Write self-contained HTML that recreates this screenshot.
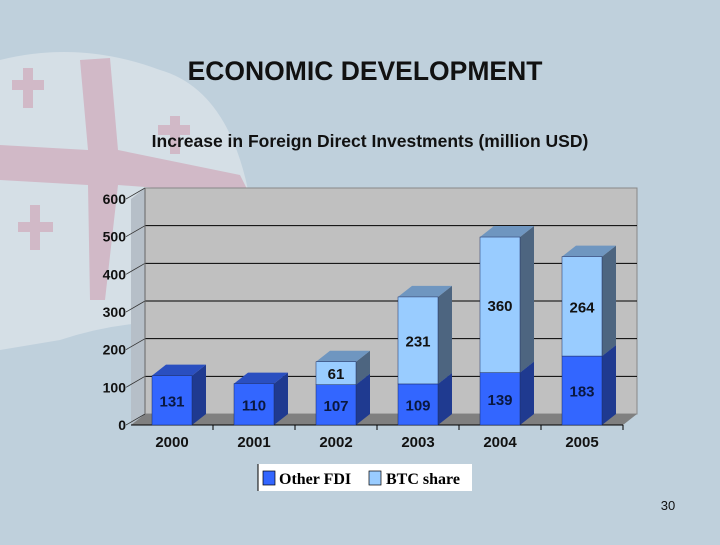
<!DOCTYPE html>
<html><head><meta charset="utf-8"><style>
body{margin:0;width:720px;height:540px;overflow:hidden;background:#bfd0dc;font-family:"Liberation Sans",sans-serif}
</style></head><body>
<svg width="720" height="540" viewBox="0 0 720 540">
<rect width="720" height="540" fill="#bfd0dc"/>
<g opacity="0.75">
<path d="M0 60 Q80 40 160 70 Q230 90 250 200 L240 330 Q150 310 60 340 L0 350 Z" fill="#dde4ea"/>
<path d="M80 60 L110 58 L118 150 L240 175 L250 195 L118 185 L105 300 L90 300 L88 185 L0 180 L0 145 L88 150 Z" fill="#d7b2c0"/>
<rect x="12" y="80" width="32" height="10" fill="#d7b2c0"/><rect x="23" y="68" width="10" height="40" fill="#d7b2c0"/>
<rect x="18" y="222" width="35" height="10" fill="#d7b2c0"/><rect x="30" y="205" width="10" height="45" fill="#d7b2c0"/>
<rect x="158" y="125" width="32" height="10" fill="#d7b2c0"/><rect x="170" y="116" width="10" height="38" fill="#d7b2c0"/>
</g>
<text x="365" y="80" text-anchor="middle" font-size="26.5" font-weight="bold" fill="#111">ECONOMIC DEVELOPMENT</text>
<text x="370" y="147" text-anchor="middle" font-size="17.5" font-weight="bold" fill="#111">Increase in Foreign Direct Investments (million USD)</text>
<g id="chart"></g>
<rect x="258" y="464" width="214" height="27" fill="#fff"/>
<line x1="258" y1="464" x2="258" y2="491" stroke="#000" stroke-width="1"/>
<rect x="263" y="471" width="12" height="14" fill="#3366ff" stroke="#000" stroke-width="0.7"/>
<text x="279" y="484" font-family="Liberation Serif,serif" font-weight="bold" font-size="16">Other FDI</text>
<rect x="369" y="471" width="12" height="14" fill="#99ccff" stroke="#000" stroke-width="0.7"/>
<text x="386" y="484" font-family="Liberation Serif,serif" font-weight="bold" font-size="16">BTC share</text>
<text x="668" y="510" text-anchor="middle" font-size="13" fill="#111">30</text>
</svg>
<script>
const categories=["2000","2001","2002","2003","2004","2005"];
const otherFdi=[131,110,107,109,139,183];
const btcShare=[0,0,61,231,360,264];
const yTicks=[0,100,200,300,400,500,600];
const NS="http://www.w3.org/2000/svg";
const g=document.getElementById('chart');
const x0=131,x1=623,yBase=425,scale=226/600,dx=14,dy=-11;
const y=v=>yBase-v*scale;
const step=(x1-x0)/categories.length;
const xc=i=>x0+step*(i+0.5);
function mk(t,a,parent){const e=document.createElementNS(NS,t);for(const k in a)e.setAttribute(k,a[k]);(parent||g).appendChild(e);return e;}
let w=mk('polygon',{points:`${x0+dx},${y(0)+dy} ${x0+dx},${y(600)+dy} ${x1+dx},${y(600)+dy} ${x1+dx},${y(0)+dy}`,fill:'#c0c0c0',stroke:'#888'});


let sw=mk('polygon',{points:`${x0},${y(0)} ${x0+dx},${y(0)+dy} ${x0+dx},${y(600)+dy} ${x0},${y(600)}`,fill:'#b6bfc8'});


let fl=mk('polygon',{points:`${x0},${y(0)} ${x0+dx},${y(0)+dy} ${x1+dx},${y(0)+dy} ${x1},${y(0)}`,fill:'#808080'});


yTicks.forEach(v=>{
  if(v>0&&v<600){const l=mk('line',{x1:x0+dx,y1:y(v)+dy,x2:x1+dx,y2:y(v)+dy,stroke:'#000','stroke-width':1});
  
  }
  const d=mk('line',{x1:x0-5,y1:y(v),x2:x0+dx,y2:y(v)+dy,stroke:'#333','stroke-width':0.8});
  
  
  const t=mk('text',{x:x0-5,y:y(v)+5,'text-anchor':'end','font-size':14,'font-weight':'bold',fill:'#111'});
  t.textContent=v;
  
  
});
const ax=mk('line',{x1:x0,y1:yBase,x2:x1,y2:yBase,stroke:'#000','stroke-width':1});


const ax2=mk('line',{x1:x0+dx,y1:y(0)+dy,x2:x0+dx,y2:y(600)+dy,stroke:'#666'});


function box(xl,xr,v0,v1,front,top,side,name){
  const gg=mk('g',{});
  
  
  mk('polygon',{points:`${xr},${y(v1)} ${xr+dx},${y(v1)+dy} ${xr+dx},${y(v0)+dy} ${xr},${y(v0)}`,fill:side},gg);
  mk('polygon',{points:`${xl},${y(v1)} ${xl+dx},${y(v1)+dy} ${xr+dx},${y(v1)+dy} ${xr},${y(v1)}`,fill:top},gg);
  mk('rect',{x:xl,y:y(v1),width:xr-xl,height:y(v0)-y(v1),fill:front,stroke:'#1a2a60',"stroke-width":0.5},gg);
}
categories.forEach((c,i)=>{
  const xl=xc(i)-20,xr=xc(i)+20;
  const a=otherFdi[i],b=btcShare[i];
  box(xl,xr,0,a,'#3366ff','#2a4fc0','#1f3a90','bar-other-fdi-'+c);
  const t=mk('text',{x:xc(i),y:(y(0)+y(a))/2+6,'text-anchor':'middle','font-size':15,'font-weight':'bold',fill:'#0a1840'});
  t.textContent=a;
  
  
  if(b>0){
    box(xl,xr,a,a+b,'#99ccff','#6f96c0','#4d6580','bar-btc-share-'+c);
    const t2=mk('text',{x:xc(i),y:(y(a)+y(a+b))/2+6,'text-anchor':'middle','font-size':15,'font-weight':'bold',fill:'#111'});
    t2.textContent=b;
    
    
  }
  const xt=mk('text',{x:xc(i),y:yBase+22,'text-anchor':'middle','font-size':15,'font-weight':'bold',fill:'#111'});
  xt.textContent=c;
  
  
  const tk=mk('line',{x1:x0+step*(i+1),y1:yBase,x2:x0+step*(i+1),y2:yBase+5,stroke:'#000'});
  
  
});
</script>
</body></html>
